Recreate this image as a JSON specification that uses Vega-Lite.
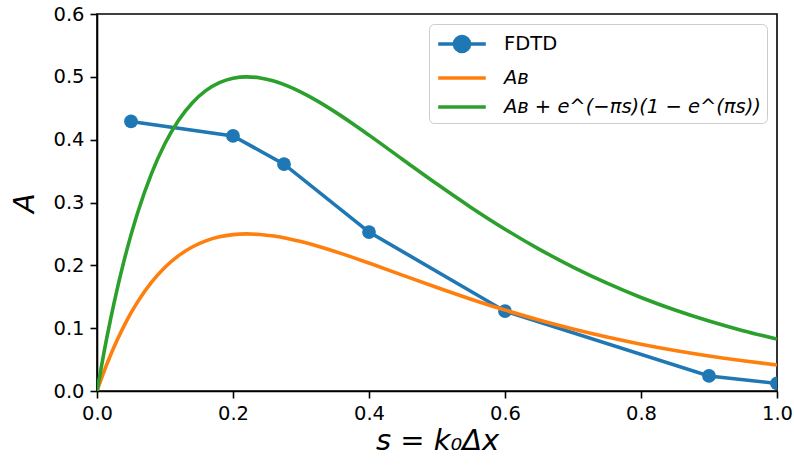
{
  "$schema": "https://vega.github.io/schema/vega-lite/v6.json",
  "width": 680,
  "height": 377,
  "autosize": "none",
  "padding": {"left": 97, "top": 14, "right": 17, "bottom": 74},
  "background": "white",
  "config": {
    "font": "DejaVu Sans",
    "view": {"stroke": "black", "strokeWidth": 1.6},
    "axis": {
      "grid": false,
      "labelFlush": false,
      "labelOverlap": false,
      "domainColor": "black",
      "domainWidth": 1.6,
      "tickColor": "black",
      "tickWidth": 1.6,
      "tickSize": 7,
      "labelColor": "black",
      "labelFont": "DejaVu Sans",
      "labelFontSize": 19.5,
      "labelPadding": 6,
      "titleColor": "black",
      "titleFont": "DejaVu Sans",
      "titleFontSize": 29,
      "titleFontWeight": "normal",
      "titleFontStyle": "italic"
    }
  },
  "datasets": {
    "fdtd": [
      {"s": 0.05, "A": 0.429, "series": "FDTD"},
      {"s": 0.2, "A": 0.406, "series": "FDTD"},
      {"s": 0.275, "A": 0.361, "series": "FDTD"},
      {"s": 0.4, "A": 0.253, "series": "FDTD"},
      {"s": 0.6, "A": 0.127, "series": "FDTD"},
      {"s": 0.9, "A": 0.024, "series": "FDTD"},
      {"s": 1.0, "A": 0.012, "series": "FDTD"}
    ],
    "curves": [
      {"s": 0.0, "A": 0.0, "series": "AB"},
      {"s": 0.01, "A": 0.02997, "series": "AB"},
      {"s": 0.02, "A": 0.05719, "series": "AB"},
      {"s": 0.03, "A": 0.08186, "series": "AB"},
      {"s": 0.04, "A": 0.10415, "series": "AB"},
      {"s": 0.05, "A": 0.12423, "series": "AB"},
      {"s": 0.06, "A": 0.14228, "series": "AB"},
      {"s": 0.08, "A": 0.17284, "series": "AB"},
      {"s": 0.1, "A": 0.19692, "series": "AB"},
      {"s": 0.12, "A": 0.21543, "series": "AB"},
      {"s": 0.14, "A": 0.22922, "series": "AB"},
      {"s": 0.16, "A": 0.23899, "series": "AB"},
      {"s": 0.18, "A": 0.24537, "series": "AB"},
      {"s": 0.2, "A": 0.24888, "series": "AB"},
      {"s": 0.22, "A": 0.25, "series": "AB"},
      {"s": 0.24, "A": 0.24913, "series": "AB"},
      {"s": 0.26, "A": 0.24662, "series": "AB"},
      {"s": 0.28, "A": 0.24276, "series": "AB"},
      {"s": 0.3, "A": 0.23783, "series": "AB"},
      {"s": 0.325, "A": 0.23046, "series": "AB"},
      {"s": 0.35, "A": 0.22212, "series": "AB"},
      {"s": 0.375, "A": 0.21308, "series": "AB"},
      {"s": 0.4, "A": 0.20361, "series": "AB"},
      {"s": 0.45, "A": 0.18407, "series": "AB"},
      {"s": 0.5, "A": 0.16467, "series": "AB"},
      {"s": 0.55, "A": 0.1461, "series": "AB"},
      {"s": 0.6, "A": 0.12878, "series": "AB"},
      {"s": 0.65, "A": 0.11293, "series": "AB"},
      {"s": 0.7, "A": 0.0986, "series": "AB"},
      {"s": 0.75, "A": 0.0858, "series": "AB"},
      {"s": 0.8, "A": 0.07444, "series": "AB"},
      {"s": 0.85, "A": 0.06443, "series": "AB"},
      {"s": 0.9, "A": 0.05567, "series": "AB"},
      {"s": 0.95, "A": 0.04801, "series": "AB"},
      {"s": 1.0, "A": 0.04135, "series": "AB"},
      {"s": 0.0, "A": 0.0, "series": "ABfull"},
      {"s": 0.01, "A": 0.05994, "series": "ABfull"},
      {"s": 0.02, "A": 0.11439, "series": "ABfull"},
      {"s": 0.03, "A": 0.16372, "series": "ABfull"},
      {"s": 0.04, "A": 0.20829, "series": "ABfull"},
      {"s": 0.05, "A": 0.24847, "series": "ABfull"},
      {"s": 0.06, "A": 0.28456, "series": "ABfull"},
      {"s": 0.08, "A": 0.34569, "series": "ABfull"},
      {"s": 0.1, "A": 0.39383, "series": "ABfull"},
      {"s": 0.12, "A": 0.43087, "series": "ABfull"},
      {"s": 0.14, "A": 0.45844, "series": "ABfull"},
      {"s": 0.16, "A": 0.47798, "series": "ABfull"},
      {"s": 0.18, "A": 0.49073, "series": "ABfull"},
      {"s": 0.2, "A": 0.49776, "series": "ABfull"},
      {"s": 0.22, "A": 0.5, "series": "ABfull"},
      {"s": 0.24, "A": 0.49826, "series": "ABfull"},
      {"s": 0.26, "A": 0.49323, "series": "ABfull"},
      {"s": 0.28, "A": 0.48553, "series": "ABfull"},
      {"s": 0.3, "A": 0.47565, "series": "ABfull"},
      {"s": 0.325, "A": 0.46093, "series": "ABfull"},
      {"s": 0.35, "A": 0.44423, "series": "ABfull"},
      {"s": 0.375, "A": 0.42617, "series": "ABfull"},
      {"s": 0.4, "A": 0.40721, "series": "ABfull"},
      {"s": 0.45, "A": 0.36815, "series": "ABfull"},
      {"s": 0.5, "A": 0.32933, "series": "ABfull"},
      {"s": 0.55, "A": 0.2922, "series": "ABfull"},
      {"s": 0.6, "A": 0.25756, "series": "ABfull"},
      {"s": 0.65, "A": 0.22585, "series": "ABfull"},
      {"s": 0.7, "A": 0.1972, "series": "ABfull"},
      {"s": 0.75, "A": 0.17159, "series": "ABfull"},
      {"s": 0.8, "A": 0.14888, "series": "ABfull"},
      {"s": 0.85, "A": 0.12886, "series": "ABfull"},
      {"s": 0.9, "A": 0.11133, "series": "ABfull"},
      {"s": 0.95, "A": 0.09601, "series": "ABfull"},
      {"s": 1.0, "A": 0.08269, "series": "ABfull"}
    ]
  },
  "encoding": {
    "x": {
      "field": "s",
      "type": "quantitative",
      "scale": {"domain": [0, 1], "nice": false, "zero": false},
      "axis": {"values": [0, 0.2, 0.4, 0.6, 0.8, 1.0], "format": ".1f", "title": "s = k₀Δx", "titlePadding": 4}
    },
    "y": {
      "field": "A",
      "type": "quantitative",
      "scale": {"domain": [0, 0.6], "nice": false, "zero": false},
      "axis": {"values": [0, 0.1, 0.2, 0.3, 0.4, 0.5, 0.6], "format": ".1f", "title": "A", "titlePadding": 13}
    },
    "color": {
      "field": "series",
      "type": "nominal",
      "scale": {"domain": ["FDTD", "AB", "ABfull"], "range": ["#1f77b4", "#ff7f0e", "#2ca02c"]},
      "legend": {
        "title": null,
        "orient": "top-right",
        "offset": 10,
        "padding": 6,
        "fillColor": "rgba(255,255,255,0.8)",
        "strokeColor": "#cccccc",
        "cornerRadius": 5,
        "labelFont": "DejaVu Sans",
        "labelFontSize": 19.5,
        "labelColor": "black",
        "labelLimit": 500,
        "labelOffset": 28,
        "rowPadding": 5,
        "symbolType": "stroke",
        "symbolSize": 566,
        "symbolOffset": 13,
        "symbolStrokeWidth": 3.6,
        "labelExpr": "datum.value === 'FDTD' ? 'FDTD' : (datum.value === 'AB' ? 'Aʙ' : 'Aʙ + e^(−πs)(1 − e^(πs))')",
        "encode": {
          "symbols": {
            "update": {
              "shape": {"signal": "datum.value === 'FDTD' ? 'M-2,0L2,0M0.63,0A0.63,0.63,0,1,1,-0.63,0A0.63,0.63,0,1,1,0.63,0Z' : 'M-2,0L2,0'"},
              "fill": {"scale": "color", "field": "value"},
              "stroke": {"scale": "color", "field": "value"},
              "strokeWidth": {"value": 3.6}
            }
          },
          "labels": {
            "update": {
              "fontStyle": {"signal": "datum.value === 'FDTD' ? 'normal' : 'italic'"}
            }
          }
        }
      }
    }
  },
  "layer": [
    {
      "data": {"name": "fdtd"},
      "mark": {"type": "line", "strokeWidth": 3.6, "clip": true}
    },
    {
      "data": {"name": "fdtd"},
      "mark": {"type": "point", "shape": "circle", "filled": true, "opacity": 1, "size": 190, "clip": true}
    },
    {
      "data": {"name": "curves"},
      "mark": {"type": "line", "strokeWidth": 3.6, "interpolate": "monotone", "clip": true}
    }
  ]
}
